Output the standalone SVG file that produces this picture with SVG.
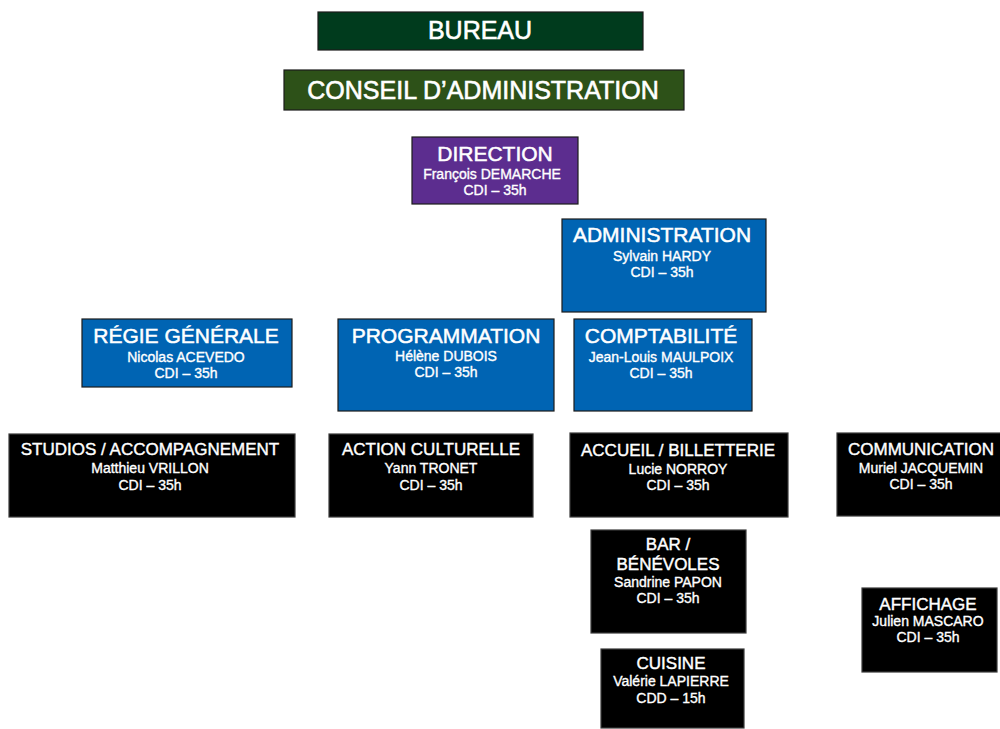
<svg xmlns="http://www.w3.org/2000/svg" width="1000" height="729" viewBox="0 0 1000 729">
<style>
  .box { stroke: #1c1c1c; stroke-width: 1.2; }
  .bureau { fill: #003b1d; }
  .ca { fill: #2d5118; }
  .dir { fill: #5c2d8f; }
  .blue { fill: #0064b3; }
  .blk { fill: #000000; stroke: #3a3a3a; }
  text { font-family: "Liberation Sans", Arial, Helvetica, sans-serif; fill: #ffffff; text-anchor: middle; stroke: #ffffff; }
  .t25 { font-size: 25px; stroke-width: 0.6; }
  .t21 { font-size: 21px; stroke-width: 0.5; }
  .t17 { font-size: 17px; stroke-width: 0.4; }
  .sub { font-size: 14px; stroke-width: 0.35; }
</style>
<rect width="1000" height="729" fill="#ffffff" stroke="none"/>
<g id="connectors"></g>

<g id="bureau">
  <rect class="box bureau" x="318" y="12" width="325" height="38"/>
  <text class="t25" x="480" y="39">BUREAU</text>
</g>
<g id="conseil">
  <rect class="box ca" x="284" y="70" width="400" height="40"/>
  <text class="t25" x="483" y="99">CONSEIL D’ADMINISTRATION</text>
</g>
<g id="direction">
  <rect class="box dir" x="412" y="137" width="166" height="67"/>
  <text class="t21" x="495" y="161">DIRECTION</text>
  <text class="sub" x="492" y="179">François DEMARCHE</text>
  <text class="sub" x="495" y="195">CDI – 35h</text>
</g>
<g id="administration">
  <rect class="box blue" x="562" y="219" width="204" height="93"/>
  <text class="t21" x="662" y="242">ADMINISTRATION</text>
  <text class="sub" x="662" y="261">Sylvain HARDY</text>
  <text class="sub" x="662" y="277">CDI – 35h</text>
</g>
<g id="regie">
  <rect class="box blue" x="82" y="319" width="210" height="68"/>
  <text class="t21" x="186" y="343">RÉGIE GÉNÉRALE</text>
  <text class="sub" x="186" y="362">Nicolas ACEVEDO</text>
  <text class="sub" x="186" y="378">CDI – 35h</text>
</g>
<g id="programmation">
  <rect class="box blue" x="338" y="319" width="216" height="92"/>
  <text class="t21" x="446" y="343">PROGRAMMATION</text>
  <text class="sub" x="446" y="361">Hélène DUBOIS</text>
  <text class="sub" x="446" y="377">CDI – 35h</text>
</g>
<g id="comptabilite">
  <rect class="box blue" x="574" y="319" width="178" height="92"/>
  <text class="t21" x="661" y="343">COMPTABILITÉ</text>
  <text class="sub" x="661" y="362">Jean-Louis MAULPOIX</text>
  <text class="sub" x="661" y="378">CDI – 35h</text>
</g>
<g id="studios">
  <rect class="box blk" x="9" y="434" width="286" height="83"/>
  <text class="t17" x="150" y="455">STUDIOS / ACCOMPAGNEMENT</text>
  <text class="sub" x="150" y="473">Matthieu VRILLON</text>
  <text class="sub" x="150" y="490">CDI – 35h</text>
</g>
<g id="action">
  <rect class="box blk" x="329" y="434" width="204" height="83"/>
  <text class="t17" x="431" y="455">ACTION CULTURELLE</text>
  <text class="sub" x="431" y="473">Yann TRONET</text>
  <text class="sub" x="431" y="490">CDI – 35h</text>
</g>
<g id="accueil">
  <rect class="box blk" x="570" y="433" width="218" height="84"/>
  <text class="t17" x="678" y="456">ACCUEIL / BILLETTERIE</text>
  <text class="sub" x="678" y="474">Lucie NORROY</text>
  <text class="sub" x="678" y="490">CDI – 35h</text>
</g>
<g id="communication">
  <rect class="box blk" x="837" y="433" width="165" height="83"/>
  <text class="t17" x="921" y="455">COMMUNICATION</text>
  <text class="sub" x="921" y="473">Muriel JACQUEMIN</text>
  <text class="sub" x="921" y="489">CDI – 35h</text>
</g>
<g id="bar">
  <rect class="box blk" x="591" y="530" width="155" height="103"/>
  <text class="t17" x="668" y="550">BAR /</text>
  <text class="t17" x="668" y="570">BÉNÉVOLES</text>
  <text class="sub" x="668" y="587">Sandrine PAPON</text>
  <text class="sub" x="668" y="603">CDI – 35h</text>
</g>
<g id="affichage">
  <rect class="box blk" x="862" y="588" width="135" height="84"/>
  <text class="t17" x="928" y="610">AFFICHAGE</text>
  <text class="sub" x="928" y="626">Julien MASCARO</text>
  <text class="sub" x="928" y="642">CDI – 35h</text>
</g>
<g id="cuisine">
  <rect class="box blk" x="601" y="649" width="143" height="79"/>
  <text class="t17" x="671" y="669">CUISINE</text>
  <text class="sub" x="671" y="686">Valérie LAPIERRE</text>
  <text class="sub" x="671" y="703">CDD – 15h</text>
</g>
</svg>
